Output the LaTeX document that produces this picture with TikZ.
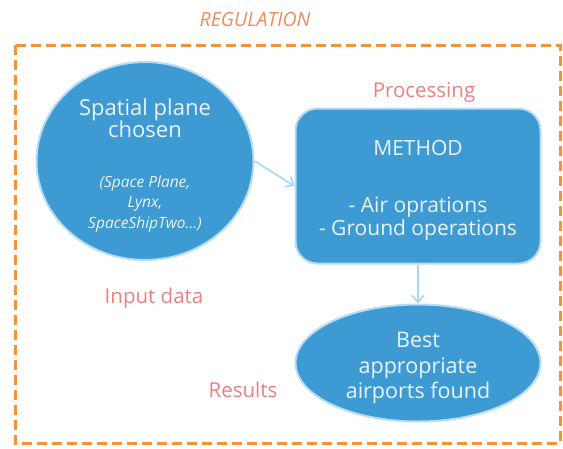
\documentclass[tikz,border=0pt]{standalone}
\usepackage{fontspec}
\setmainfont{Open Sans}
\usepackage{tikz}
\usetikzlibrary{arrows.meta,positioning,shapes.geometric}

\definecolor{fillblue}{RGB}{62,154,210}
\definecolor{edgeblue}{RGB}{180,221,245}
\definecolor{arrowblue}{RGB}{168,214,243}
\definecolor{labelred}{RGB}{236,128,128}
\definecolor{regorange}{RGB}{238,140,90}
\definecolor{dashorange}{RGB}{240,148,58}
\definecolor{textwhite}{RGB}{234,245,252}

\newcommand\planenote[1]{{\itshape\fontsize{15.5}{20}\selectfont #1}}

\tikzset{
  blueshape/.style={fill=fillblue, draw=edgeblue, line width=2pt, text=textwhite,
    align=center, inner sep=0pt, font=\fontsize{21}{26}\selectfont},
  tag/.style={text=labelred, font=\fontsize{20.5}{22}\selectfont},
  flow/.style={draw=arrowblue, line width=1.6pt, -{Straight Barb[length=7pt,width=12pt]}}
}

\begin{document}
\begin{tikzpicture}[x=1pt,y=-1pt]
  \useasboundingbox (0,0) rectangle (563,448);
  % frame
  \draw [dashorange, line width=3pt, dash pattern=on 10pt off 5pt] (15,45) rectangle (560,443);
  \node [text=regorange, font=\itshape\fontsize{19.5}{21}\selectfont] (reg) at (255,20) {REGULATION};

  \node [blueshape, ellipse, inner ysep=-12pt, minimum width=217pt, minimum height=198pt,
    font=\fontsize{22}{25}\selectfont] (plane) at (145,161)
    {\rule{0pt}{26pt}Spatial plane\\[-3pt]chosen\\[25pt]\planenote{(Space Plane,}\\[-5pt]\planenote{Lynx,}\\[-4pt]\planenote{SpaceShipTwo...)}};
  \node [blueshape, rounded corners=22pt, minimum width=245pt, minimum height=155pt,
    font=\fontsize{21}{23}\selectfont] (method) at (418,186)
    {\rule{0pt}{24pt}METHOD\\[34pt]- Air oprations\\- Ground operations};
  \node [blueshape, ellipse, inner ysep=-8pt, minimum width=245pt, minimum height=117pt,
    font=\fontsize{21.5}{25.5}\selectfont] (best) at (418,363)
    {\rule{0pt}{26pt}Best\\appropriate\\airports found};

  \node [tag] (proc) at (424,92) {Processing};
  \node [tag] (input) at (154,298) {Input data};
  \node [tag] (results) at (243,390) {Results};

  \draw [flow] (plane.east) -- (method.west);
  \draw [flow] (method.south) -- (best.north);
\end{tikzpicture}
\end{document}
